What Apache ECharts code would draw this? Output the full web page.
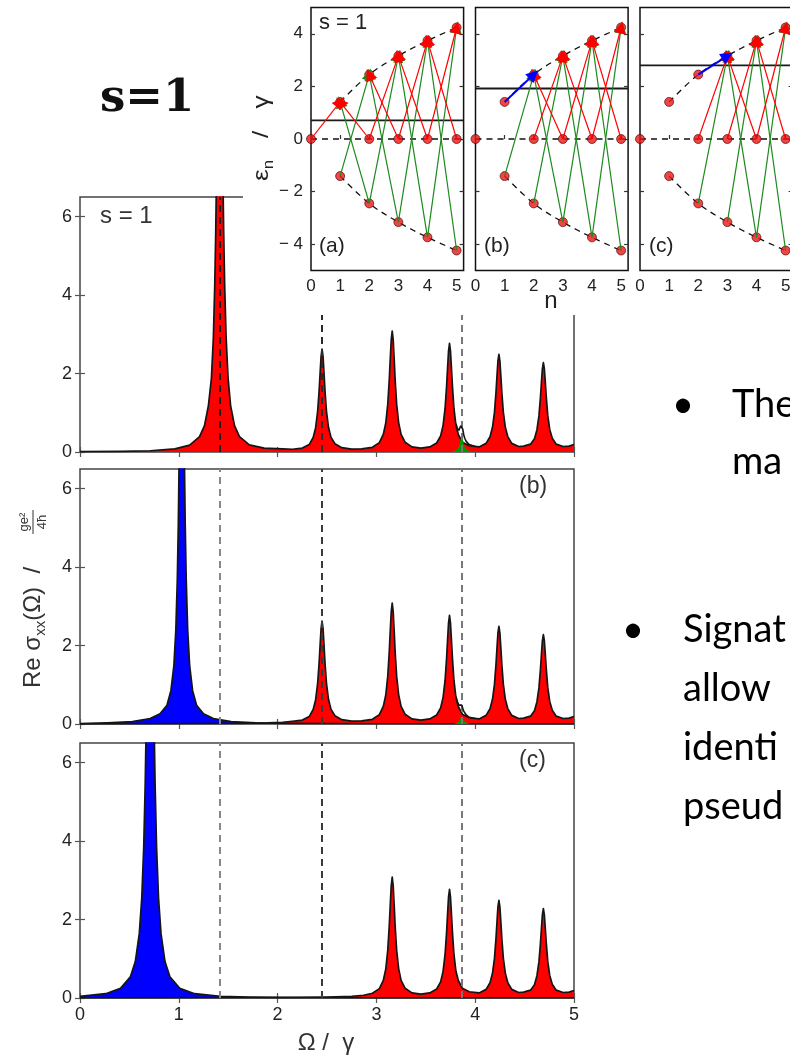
<!DOCTYPE html>
<html>
<head>
<meta charset="utf-8">
<title>s=1</title>
<script src="https://cdn.jsdelivr.net/npm/echarts@6/dist/echarts.min.js"></script>
<style>
  html, body { margin: 0; padding: 0; background: #fff; overflow: hidden; }
  #chart { width: 790px; height: 1055px; }
</style>
</head>
<body>
<div id="chart"></div>
<script>
// ---------- inset: levels eps_n / gamma against n ----------
const nTicks = [0, 1, 2, 3, 4, 5];
const epsTicks = [-4, -2, 0, 2, 4];
const levelE = [0, 1.41, 2.45, 3.16, 3.74, 4.24];   // eps_n for n = 0..5
const zeroN = [0, 2, 3, 4, 5];                        // n with a zero-energy level
const muLevel = [0.71, 1.92, 2.8];                    // solid line in (a), (b), (c)

// transitions [from n, to n]: red = 0 -> +eps, green = -eps -> +eps, blue = +eps -> +eps
const redJumpsA = [[0, 1], [2, 1], [2, 3], [3, 2], [3, 4], [4, 3], [4, 5], [5, 4]];
const greenJumpsA = [[1, 2], [2, 1], [2, 3], [3, 2], [3, 4], [4, 3], [4, 5], [5, 4]];
const redJumpsB = [[2, 3], [3, 2], [3, 4], [4, 3], [4, 5], [5, 4]];
const greenJumpsB = [[1, 2], [2, 3], [3, 2], [3, 4], [4, 3], [4, 5], [5, 4]];
const blueJumpsB = [[1, 2]];
const redJumpsC = [[2, 3], [3, 4], [4, 3], [4, 5], [5, 4]];
const greenJumpsC = [[2, 3], [3, 4], [4, 3], [4, 5], [5, 4]];
const blueJumpsC = [[2, 3]];

// ---------- main panels: Re sigma_xx against Omega / gamma ----------
const omegaTicks = [0, 1, 2, 3, 4, 5];
const sigmaTicks = [0, 2, 4, 6];
const dashOmega = [1.414, 2.449, 3.864];

const redLeadA = [[0, 0.008], [0.41, 0.016], [0.71, 0.032], [0.96, 0.08], [1.11, 0.175], [1.21, 0.39],
  [1.26, 0.67], [1.30, 1.19], [1.33, 1.88], [1.35, 2.92], [1.364, 4.28], [1.374, 5.64], [1.384, 7.5],
  [1.394, 9.8], [1.414, 13], [1.434, 9.8], [1.444, 7.5], [1.454, 5.64], [1.464, 4.28], [1.479, 2.92],
  [1.499, 1.88], [1.524, 1.19], [1.564, 0.67], [1.614, 0.39], [1.714, 0.18], [1.864, 0.1], [2.05, 0.08]];
const redLeadB = [[0, 0.004], [1.0, 0.008], [1.6, 0.015], [1.9, 0.028], [2.05, 0.045]];
const redLeadC = [[0, 0.002], [2.0, 0.01], [2.5, 0.025], [2.75, 0.045], [2.87, 0.07]];

const redPeaks = [[2.15, 0.07], [2.25, 0.1], [2.32, 0.19], [2.36, 0.37], [2.385, 0.62], [2.405, 1.03],
  [2.42, 1.55], [2.43, 2.0], [2.44, 2.43], [2.45, 2.62], [2.46, 2.43], [2.47, 2.0], [2.48, 1.55],
  [2.495, 1.03], [2.515, 0.63], [2.54, 0.38], [2.58, 0.21], [2.65, 0.11], [2.75, 0.075], [2.85, 0.08],
  [2.96, 0.12], [3.03, 0.24], [3.07, 0.45], [3.095, 0.74], [3.115, 1.22], [3.13, 1.83], [3.14, 2.36],
  [3.15, 2.86], [3.16, 3.08], [3.17, 2.86], [3.18, 2.36], [3.19, 1.83], [3.205, 1.22], [3.225, 0.75],
  [3.25, 0.45], [3.29, 0.25], [3.36, 0.13], [3.45, 0.1],
  [3.54, 0.13], [3.61, 0.23], [3.65, 0.41], [3.675, 0.68], [3.695, 1.11], [3.71, 1.66], [3.72, 2.12],
  [3.73, 2.57], [3.74, 2.77], [3.75, 2.57], [3.76, 2.12], [3.77, 1.66], [3.785, 1.11], [3.805, 0.68],
  [3.83, 0.44], [3.87, 0.25], [3.94, 0.16], [4.04, 0.13],
  [4.11, 0.22], [4.15, 0.39], [4.175, 0.63], [4.195, 1.01], [4.21, 1.5], [4.22, 1.92], [4.23, 2.32],
  [4.24, 2.49], [4.25, 2.32], [4.26, 1.92], [4.27, 1.5], [4.285, 1.01], [4.305, 0.63], [4.33, 0.39],
  [4.37, 0.22], [4.44, 0.14], [4.49, 0.15],
  [4.56, 0.2], [4.6, 0.34], [4.625, 0.57], [4.645, 0.92], [4.66, 1.38], [4.67, 1.76], [4.68, 2.12],
  [4.69, 2.28], [4.7, 2.12], [4.71, 1.76], [4.72, 1.38], [4.735, 0.92], [4.755, 0.57], [4.78, 0.35],
  [4.82, 0.2], [4.89, 0.14], [4.95, 0.15], [5.0, 0.19]];

const blueB = [[0, 0.012], [0.28, 0.03], [0.53, 0.06], [0.71, 0.14], [0.81, 0.26], [0.88, 0.48], [0.92, 0.85],
  [0.95, 1.48], [0.97, 2.4], [0.985, 3.69], [0.995, 5.08], [1.005, 7.08], [1.015, 9.6], [1.03, 12],
  [1.045, 9.6], [1.055, 7.08], [1.065, 5.08], [1.075, 3.69], [1.09, 2.4], [1.11, 1.48], [1.14, 0.85],
  [1.18, 0.48], [1.25, 0.26], [1.35, 0.14], [1.53, 0.06], [1.78, 0.03], [2.1, 0.015], [3, 0.006], [5, 0.002]];
const blueC = [[0, 0.04], [0.26, 0.11], [0.41, 0.245], [0.51, 0.54], [0.56, 0.93], [0.6, 1.64], [0.625, 2.54],
  [0.645, 3.85], [0.66, 5.46], [0.67, 7], [0.68, 8.96], [0.69, 11.2], [0.71, 14], [0.73, 11.2], [0.74, 8.96],
  [0.75, 7], [0.76, 5.46], [0.775, 3.85], [0.795, 2.54], [0.82, 1.64], [0.86, 0.93], [0.91, 0.54],
  [1.01, 0.245], [1.16, 0.11], [1.42, 0.044], [1.71, 0.022], [2.2, 0.01], [3, 0.005], [5, 0.002]];

const greenA = [[3.764, 0.016], [3.794, 0.031], [3.819, 0.069], [3.834, 0.13], [3.844, 0.21], [3.854, 0.336],
  [3.864, 0.42], [3.874, 0.336], [3.884, 0.21], [3.894, 0.13], [3.909, 0.069], [3.934, 0.031], [3.964, 0.016]];
const greenB = [[3.764, 0.008], [3.794, 0.015], [3.819, 0.033], [3.834, 0.062], [3.844, 0.1], [3.854, 0.16],
  [3.864, 0.2], [3.874, 0.16], [3.884, 0.1], [3.894, 0.062], [3.909, 0.033], [3.934, 0.015], [3.964, 0.008]];
// total curve (red + green) around the small green peak
const bumpA = [[3.805, 0.72], [3.819, 0.61], [3.834, 0.55], [3.844, 0.58], [3.854, 0.67], [3.864, 0.7],
  [3.874, 0.58], [3.884, 0.44], [3.894, 0.35], [3.909, 0.27], [3.934, 0.2], [3.964, 0.17], [4.0, 0.14]];
const bumpB = [[3.805, 0.7], [3.819, 0.57], [3.834, 0.48], [3.844, 0.47], [3.854, 0.49], [3.864, 0.48],
  [3.874, 0.4], [3.884, 0.33], [3.894, 0.28], [3.909, 0.23], [3.934, 0.18], [3.964, 0.16], [4.0, 0.14]];

// ---------- layout ----------
const FONT = 'Liberation Sans';
const INK = '#222';
const mainTops = [197, 469, 743];
const insetLefts = [311, 475.5, 640];
const insetXMax = 5.24;
const RED = '#ff0000';
const BLUE = '#0000ff';
const GREEN = '#009a00';

const grids = [];
const xAxes = [];
const yAxes = [];
const series = [];

function tickStyle(color) {
  return { show: true, inside: true, length: 5, lineStyle: { color, width: 1.2 } };
}

mainTops.forEach((top, i) => {
  grids.push({ left: 80, top, width: 494, height: 255, show: true, borderColor: '#444', borderWidth: 1.5,
    backgroundColor: 'transparent', outerBoundsMode: 'none', containLabel: false });
  ['bottom', 'top'].forEach((pos) => {
    xAxes.push({
      type: 'value', gridIndex: i, position: pos, min: 0, max: 5,
      axisLine: { show: false }, splitLine: { show: false },
      axisTick: Object.assign(tickStyle('#555'), { customValues: omegaTicks }),
      axisLabel: { show: pos === 'bottom' && i === 2, customValues: omegaTicks, fontSize: 18,
        color: INK, margin: 8, fontFamily: FONT },
    });
  });
  ['left', 'right'].forEach((pos) => {
    yAxes.push({
      type: 'value', gridIndex: i, position: pos, min: 0, max: 6.5,
      axisLine: { show: false }, splitLine: { show: false },
      axisTick: Object.assign(tickStyle('#555'), { customValues: sigmaTicks }),
      axisLabel: { show: pos === 'left', customValues: sigmaTicks, fontSize: 18, color: INK,
        margin: 8, fontFamily: FONT },
    });
  });
});

insetLefts.forEach((left, i) => {
  grids.push({ left, top: 7.5, width: 152.6, height: 263, show: true, borderColor: '#111', borderWidth: 1.5,
    backgroundColor: 'transparent', z: 60, outerBoundsMode: 'none', containLabel: false });
  xAxes.push({
    type: 'value', gridIndex: 3 + i, min: 0, max: insetXMax, z: 60,
    axisLine: { show: false }, splitLine: { show: false },
    axisTick: Object.assign(tickStyle('#333'), { length: 4, customValues: nTicks }),
    axisLabel: { customValues: nTicks, fontSize: 17, color: INK, margin: 7, fontFamily: FONT },
  });
  ['left', 'right'].forEach((pos) => {
    yAxes.push({
      type: 'value', gridIndex: 3 + i, position: pos, min: -5, max: 5, z: 60,
      axisLine: { show: false }, splitLine: { show: false },
      axisTick: Object.assign(tickStyle('#333'), { length: 4, customValues: epsTicks }),
      axisLabel: { show: pos === 'left' && i === 0, customValues: epsTicks, fontSize: 17, color: INK,
        margin: 8, fontFamily: FONT, formatter: (v) => (v < 0 ? '\u2212 ' + Math.abs(v) : String(v)) },
    });
  });
});

// ---------- main panel series ----------
function area(i, data, color, z) {
  return {
    type: 'line', xAxisIndex: 2 * i, yAxisIndex: 2 * i, data, showSymbol: false, symbol: 'none',
    silent: true, z, lineStyle: { color: '#151515', width: 1.7, join: 'round' },
    areaStyle: { color, opacity: 1 },
  };
}
function dashes(i, colors) {
  return {
    type: 'line', xAxisIndex: 2 * i, yAxisIndex: 2 * i, data: [], silent: true, z: 4,
    markLine: {
      silent: true, symbol: 'none', label: { show: false }, animation: false,
      data: dashOmega.map((x, k) => ({ xAxis: x, lineStyle: { color: colors[k], width: 2, type: [7, 5] } })),
    },
  };
}
function outline(i, data) {
  return {
    type: 'line', xAxisIndex: 2 * i, yAxisIndex: 2 * i, data, showSymbol: false, symbol: 'none',
    silent: true, z: 5, lineStyle: { color: '#151515', width: 1.6 },
  };
}

series.push(area(0, redLeadA.concat(redPeaks), RED, 2));
series.push(Object.assign(area(0, greenA, GREEN, 3), { lineStyle: { width: 0 } }));
series.push(dashes(0, ['#1a1a1a', '#2a2a2a', '#777']));
series.push(outline(0, bumpA));

series.push(area(1, blueB, BLUE, 2));
series.push(area(1, redLeadB.concat(redPeaks), RED, 2));
series.push(Object.assign(area(1, greenB, GREEN, 3), { lineStyle: { width: 0 } }));
series.push(dashes(1, ['#888', '#3a3a3a', '#777']));
series.push(outline(1, bumpB));

series.push(area(2, blueC, BLUE, 2));
series.push(area(2, redLeadC.concat(redPeaks.filter((p) => p[0] > 2.9)), RED, 2));
series.push(dashes(2, ['#888', '#3a3a3a', '#777']));

// ---------- inset series ----------
const dots = zeroN.map((n) => [n, 0]);
levelE.forEach((e, n) => { if (n > 0) { dots.push([n, e], [n, -e]); } });
const upper = levelE.map((e, n) => [n, e]).slice(1);
const lower = levelE.map((e, n) => [n, -e]).slice(1);

const insetJumps = [
  { red: redJumpsA, green: greenJumpsA, blue: [] },
  { red: redJumpsB, green: greenJumpsB, blue: blueJumpsB },
  { red: redJumpsC, green: greenJumpsC, blue: blueJumpsC },
];

insetJumps.forEach((jumps, i) => {
  const xi = 6 + i;
  const yi = 6 + 2 * i;
  const base = { xAxisIndex: xi, yAxisIndex: yi, silent: true };
  [upper, lower].forEach((curve) => {
    series.push(Object.assign({ type: 'line', data: curve, smooth: 0.35, showSymbol: false, symbol: 'none', z: 61,
      lineStyle: { color: '#111', width: 1.3, type: [6, 5] } }, base));
  });
  series.push(Object.assign({ type: 'line', data: [[0, 0], [insetXMax, 0]], showSymbol: false, symbol: 'none', z: 61,
    lineStyle: { color: '#111', width: 1.3, type: [6, 5] } }, base));
  series.push(Object.assign({ type: 'line', data: [[0, muLevel[i]], [insetXMax, muLevel[i]]], showSymbol: false,
    symbol: 'none', z: 61, lineStyle: { color: '#1a1a1a', width: 1.8 } }, base));
  series.push(Object.assign({ type: 'scatter', data: dots, symbolSize: 9, z: 62,
    itemStyle: { color: '#ee1515', borderColor: '#3a0000', borderWidth: 0.8 } }, base));
  const lineSets = [
    { list: jumps.green, color: '#1d8a1d', width: 1.2, from: (n) => -levelE[n], size: 12 },
    { list: jumps.red, color: RED, width: 1.2, from: () => 0, size: 12 },
    { list: jumps.blue, color: BLUE, width: 2, from: (n) => levelE[n], size: 12 },
  ];
  lineSets.forEach((set, k) => {
    if (!set.list.length) { return; }
    series.push(Object.assign({
      type: 'lines', coordinateSystem: 'cartesian2d', z: 63 + k, polyline: false,
      symbol: ['none', 'triangle'], symbolSize: set.size,
      lineStyle: { color: set.color, width: set.width, opacity: 1 },
      data: set.list.map(([a, b]) => ({ coords: [[a, set.from(a)], [b, levelE[b]]] })),
    }, base));
  });
});

// ---------- texts ----------
function txt(x, y, text, size, extra) {
  return Object.assign({ type: 'text', x, y, z: 200, silent: true,
    style: Object.assign({ text, fontSize: size, fontFamily: FONT, fill: INK, verticalAlign: 'middle', align: 'left' },
      extra || {}) });
}

const graphics = [
  { type: 'rect', shape: { x: 243, y: 0, width: 560, height: 315 }, style: { fill: '#fff' }, z: 50, silent: true },
  txt(100, 99, 's=1', 45, { fontFamily: 'DejaVu Serif', fontWeight: 'bold', fill: '#111' }),
  // figure labels
  txt(100, 216, 's = 1', 24, { fill: '#333' }),
  txt(519, 487, '(b)', 23, { fill: '#333' }),
  txt(519, 761, '(c)', 23, { fill: '#333' }),
  txt(326, 1043, '\u03a9 /  \u03b3', 24, { align: 'center', fill: '#333' }),
  {
    type: 'group', x: 33, y: 688, rotation: Math.PI / 2, z: 200, silent: true,
    children: [
      { type: 'text', x: 0, y: 0, z: 200, style: { text: '{a|Re \u03c3}{s|xx}{a|(\u03a9)  /}', verticalAlign: 'middle',
        align: 'left', fill: '#333',
        rich: { a: { fontSize: 24, lineHeight: 30, fontFamily: FONT, fill: '#333' },
          s: { fontSize: 15, lineHeight: 16, verticalAlign: 'bottom', fontFamily: FONT, fill: '#333' } } } },
      { type: 'text', x: 166, y: -9, z: 200, style: { text: 'ge\u00b2', fontSize: 13, fontFamily: FONT, fill: '#333',
        align: 'center', verticalAlign: 'middle' } },
      { type: 'line', z: 200, shape: { x1: 154, y1: 0, x2: 178, y2: 0 }, style: { stroke: '#333', lineWidth: 1 } },
      { type: 'text', x: 166, y: 9, z: 200, style: { text: '4\u0127', fontSize: 13, fontFamily: FONT, fill: '#333',
        align: 'center', verticalAlign: 'middle' } },
    ],
  },
  // inset labels
  txt(319, 23, 's = 1', 22),
  txt(319, 246, '(a)', 21),
  txt(484, 246, '(b)', 21),
  txt(649, 246, '(c)', 21),
  txt(551, 301, 'n', 24, { align: 'center' }),
  {
    type: 'group', x: 262, y: 181, rotation: Math.PI / 2, scaleX: 1.2, z: 200, silent: true,
    children: [
      { type: 'text', x: 0, y: 0, z: 200, style: { text: '{a|\u03b5}{s|n}{a|   /   \u03b3}', verticalAlign: 'middle',
        align: 'left', fill: INK,
        rich: { a: { fontSize: 22, lineHeight: 28, fontFamily: FONT, fill: INK },
          s: { fontSize: 14, lineHeight: 14, verticalAlign: 'bottom', fontFamily: FONT, fill: INK } } } },
    ],
  },
  // slide bullets (cut at the right edge)
  txt(672, 405, '\u2022', 38, { fontFamily: 'Lato', fill: '#000' }),
  txt(732, 405, 'The', 38, { fontFamily: 'Lato', fill: '#000' }),
  txt(732, 462, 'ma', 38, { fontFamily: 'Lato', fill: '#000' }),
  txt(622, 630, '\u2022', 38, { fontFamily: 'Lato', fill: '#000' }),
  txt(683, 630, 'Signat', 38, { fontFamily: 'Lato', fill: '#000' }),
  txt(683, 689, 'allow', 38, { fontFamily: 'Lato', fill: '#000' }),
  txt(683, 748, 'identi', 38, { fontFamily: 'Lato', fill: '#000' }),
  txt(683, 807, 'pseud', 38, { fontFamily: 'Lato', fill: '#000' }),
];

const chart = echarts.init(document.getElementById('chart'), null, { renderer: 'canvas' });
chart.setOption({
  animation: false,
  backgroundColor: '#fff',
  textStyle: { fontFamily: FONT },
  grid: grids,
  xAxis: xAxes,
  yAxis: yAxes,
  series,
  graphic: { elements: graphics },
});
</script>
</body>
</html>
